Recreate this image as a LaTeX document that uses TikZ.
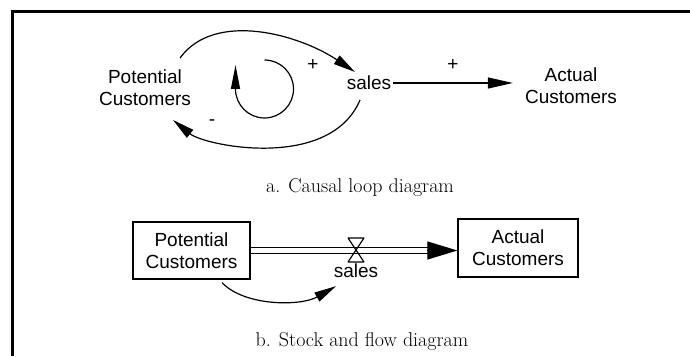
\documentclass[tikz,border=0pt]{standalone}
\usepackage{fontspec}
\usepackage{tikz}
\usetikzlibrary{arrows.meta,positioning,calc}
\newfontfamily\diafont{Liberation Sans}
\newfontfamily\capfont{Latin Modern Roman}

\begin{document}
\begin{tikzpicture}[x=1pt,y=1pt,
  font=\diafont\fontsize{19}{22}\selectfont,
  lbl/.style={align=center,inner sep=2pt},
  stock/.style={draw,line width=1.3pt,minimum width=117pt,minimum height=57pt,align=center,inner sep=2pt},
  arr/.style={-{Triangle[length=22pt,width=10pt]},line width=1.2pt},
  pipe/.style={line width=1.2pt},
  capline/.style={font=\capfont\fontsize{20}{24}\selectfont}]
  \useasboundingbox (0,0) rectangle (690,356);
  \draw[line width=3pt] (690,344.5) -- (12.5,344.5) -- (12.5,0);
  % a. causal loop
  \node[lbl] (pc1) at (145,268) {Potential\\Customers};
  \node[lbl] (sales1) at (369,273) {sales};
  \node[lbl] (ac1) at (571,270) {Actual\\Customers};
  \node (plusa) at (313,291) {+};
  \node (plusb) at (453,291) {+};
  \node (minus) at (212,233) {-};
  \draw[arr] ([shift={(35,30)}]pc1.center) .. controls +(35,48) and +(-55,37) .. ([shift={(-14,11)}]sales1.center);
  \draw[arr] ([shift={(-9,-17)}]sales1.center) .. controls +(-30,-71) and +(32,-26) .. ([shift={(28,-32)}]pc1.center);
  \draw[arr,-{Triangle[length=25pt,width=11pt]}] (sales1.east) -- ($(sales1.east -| ac1.west)+(-10,0)$);
  \coordinate (loop) at (264.5,267);
  \draw[arr,-{Triangle[length=24pt,width=9pt]}] ([yshift=29pt]loop) arc[start angle=90,end angle=-180,radius=29pt] -- ++(0,24);
  \node[capline] (capa) at (360,168) {a. Causal loop diagram};
  % b. stock and flow
  \node[stock] (pc2) at (191.5,105.5) {Potential\\Customers};
  \node[stock,minimum width=120pt,minimum height=58pt] (ac2) at (518,108) {Actual\\Customers};
  \coordinate (valve) at (356,106);
  \draw[pipe] ([yshift=3pt]pc2.east) -- ($(pc2.east -| ac2.west)+(-26,3)$);
  \draw[pipe] ([yshift=-3pt]pc2.east) -- ($(pc2.east -| ac2.west)+(-26,-3)$);
  \draw[pipe,-{Triangle[length=30pt,width=18pt]}] ($(pc2.east -| ac2.west)+(-30,0)$) -- (pc2.east -| ac2.west);
  \draw[pipe,line join=bevel] ([shift={(-8,12)}]valve) -- ([shift={(8,12)}]valve) -- ([shift={(-8,-12)}]valve) -- ([shift={(8,-12)}]valve) -- cycle;
  \node[lbl,below=12pt of valve] (sales2) {sales};
  \draw[arr] ([shift={(30.5,-3)}]pc2.south) .. controls +(23,-24) and +(-35,-20) .. ([shift={(-20,-15)}]sales2.center);
  \node[capline] (capb) at (362,14) {b. Stock and flow diagram};
\end{tikzpicture}
\end{document}
